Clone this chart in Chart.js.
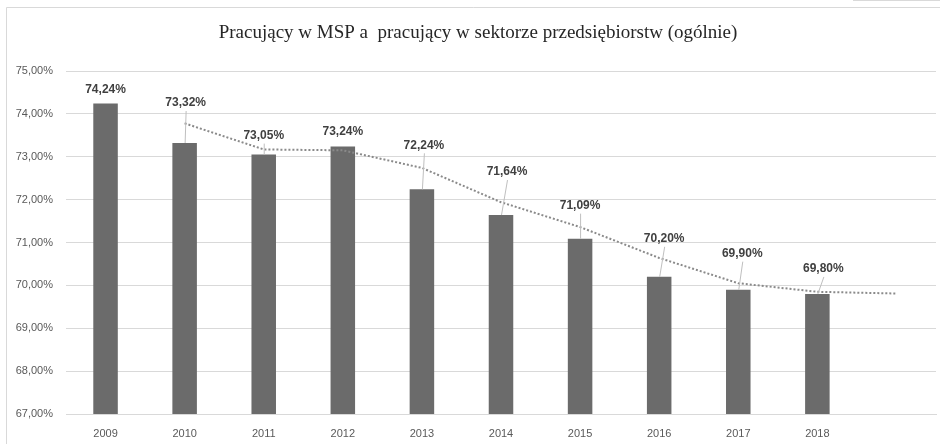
<!DOCTYPE html>
<html>
<head>
<meta charset="utf-8">
<script src="https://cdn.jsdelivr.net/npm/chart.js@4"></script>
<style>
  html, body { margin: 0; padding: 0; background: #fff; }
  #wrap { width: 940px; height: 444px; position: relative; }
</style>
</head>
<body>
<div id="wrap"><canvas id="myChart" width="940" height="444"></canvas></div>
<script>
// lata (ostatnia kategoria pusta - tam konczy sie linia trendu)
const years = ['2009', '2010', '2011', '2012', '2013', '2014', '2015', '2016', '2017', '2018', ''];
// udzial pracujacych w MSP (%)
const shares = [74.24, 73.32, 73.05, 73.24, 72.24, 71.64, 71.09, 70.20, 69.90, 69.80, null];
// srednia ruchoma (2 okresy)
const trend = [null, 73.78, 73.17, 73.15, 72.74, 71.94, 71.36, 70.64, 70.05, 69.85, 69.81];
const yTicks = [67, 68, 69, 70, 71, 72, 73, 74, 75];
const chartTitle = 'Pracujący w MSP a  pracujący w sektorze przedsiębiorstw (ogólnie)';

// przesuniecia etykiet wzgledem szczytu slupka
const labelShift = [
  [0, -14], [1, -40], [0, -19], [0, -15], [2, -44],
  [6, -43], [0, -33], [5, -38], [4, -36], [6, -25]
];

const fmt = v => v.toFixed(2).replace('.', ',') + '%';

// ramka wykresu + tytul (lekko w prawo od srodka)
const frame = {
  id: 'frame',
  beforeDraw(chart) {
    const ctx = chart.ctx;
    ctx.save();
    ctx.fillStyle = '#fff';
    ctx.fillRect(0, 0, chart.width, chart.height);
    ctx.strokeStyle = '#d9d9d9';
    ctx.lineWidth = 1;
    ctx.beginPath();
    ctx.moveTo(6.5, chart.height);
    ctx.lineTo(6.5, 7.5);
    ctx.lineTo(chart.width, 7.5);
    ctx.stroke();
    ctx.beginPath();
    ctx.moveTo(853, 0.5);
    ctx.lineTo(chart.width, 0.5);
    ctx.stroke();

    ctx.fillStyle = '#262626';
    ctx.font = '19px "Liberation Serif", "Times New Roman", serif';
    ctx.textAlign = 'center';
    ctx.textBaseline = 'middle';
    ctx.fillText(chartTitle, 478, 33);
    ctx.restore();
  }
};

const valueLabels = {
  id: 'valueLabels',
  afterDatasetsDraw(chart) {
    const ctx = chart.ctx;
    const meta = chart.getDatasetMeta(0);
    ctx.save();
    ctx.font = 'bold 12px "Liberation Sans", Arial, sans-serif';
    ctx.textAlign = 'center';
    ctx.textBaseline = 'middle';
    meta.data.forEach((bar, i) => {
      const v = shares[i];
      if (v == null) return;
      const [dx, dy] = labelShift[i];
      const lx = bar.x + dx;
      const ly = bar.y + dy;
      if (dy < -17) {
        ctx.strokeStyle = '#bfbfbf';
        ctx.lineWidth = 1;
        ctx.beginPath();
        ctx.moveTo(lx + 0.5, ly + 8);
        ctx.lineTo(bar.x + 0.5, bar.y);
        ctx.stroke();
      }
      ctx.fillStyle = '#404040';
      ctx.fillText(fmt(v), lx, ly);
    });
    ctx.restore();
  }
};

const ctx = document.getElementById('myChart').getContext('2d');
const myChart = new Chart(ctx, {
  type: 'bar',
  data: {
    labels: years,
    datasets: [{
      label: 'Pracujący w MSP',
      data: shares,
      backgroundColor: '#6b6b6b',
      categoryPercentage: 1,
      barPercentage: 0.31,
      order: 2
    }, {
      type: 'line',
      label: 'Średnia ruchoma',
      data: trend,
      borderColor: '#8a8a8a',
      borderWidth: 2,
      borderDash: [2, 2],
      pointRadius: 0,
      tension: 0,
      fill: false,
      spanGaps: false,
      order: 1
    }]
  },
  options: {
    responsive: false,
    animation: false,
    layout: { padding: { left: 8, right: 4, top: 71, bottom: 0 } },
    plugins: {
      legend: { display: false },
      tooltip: { enabled: false },
      title: { display: false }
    },
    scales: {
      x: {
        offset: true,
        afterFit(scale) { scale.height = 30; },
        grid: { display: false },
        border: { color: '#d9d9d9' },
        ticks: {
          color: '#595959',
          font: { family: '"Liberation Sans", Arial, sans-serif', size: 11 },
          padding: 5,
          maxRotation: 0,
          autoSkip: false
        }
      },
      y: {
        min: 67,
        max: 75,
        afterFit(scale) { scale.width = 58; },
        afterBuildTicks(scale) { scale.ticks = yTicks.map(v => ({ value: v })); },
        grid: { color: '#d9d9d9', drawTicks: false },
        border: { display: false },
        ticks: {
          color: '#595959',
          font: { family: '"Liberation Sans", Arial, sans-serif', size: 11 },
          padding: 13,
          callback: v => fmt(v)
        }
      }
    }
  },
  plugins: [frame, valueLabels]
});
</script>
</body>
</html>
